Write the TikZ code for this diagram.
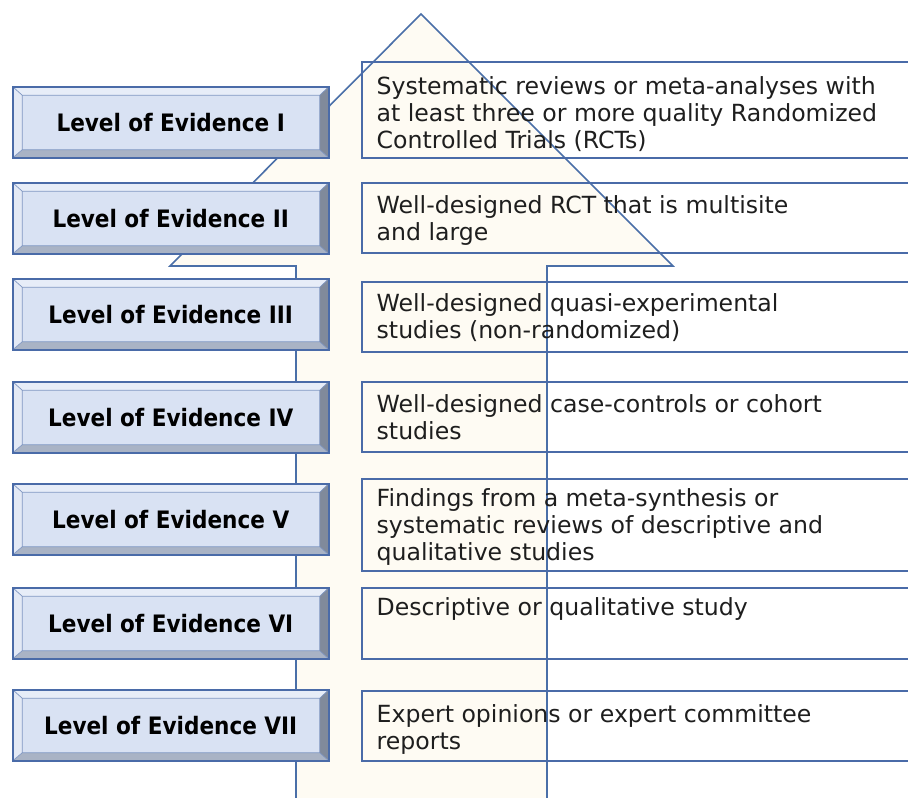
\documentclass[tikz,border=0pt]{standalone}
\usepackage{fontspec}
\setmainfont{DejaVu Sans}
\newfontfamily\lvlfont{DejaVu Sans Condensed Bold}
\definecolor{arrline}{HTML}{4A6FA8}
\definecolor{arrfill}{HTML}{FEFBF3}
\definecolor{lvlline}{HTML}{4A6BA8}
\definecolor{lvlfill}{HTML}{D9E2F3}
\definecolor{bvT}{HTML}{E7EDF8}
\definecolor{bvL}{HTML}{E3E9F5}
\definecolor{bvB}{HTML}{A9B3C5}
\definecolor{bvR}{HTML}{808A9B}
\definecolor{txt}{HTML}{1E1E1E}
\tikzset{
  bevelbox/.style={draw=lvlline, line width=1.5pt, fill=lvlfill,
    minimum width=316pt, minimum height=71pt, inner sep=0pt, anchor=north west,
    font=\lvlfont\fontsize{24}{28}\selectfont, text=black,
    path picture={
      \coordinate (bNW) at (path picture bounding box.north west);
      \coordinate (bNE) at (path picture bounding box.north east);
      \coordinate (bSW) at (path picture bounding box.south west);
      \coordinate (bSE) at (path picture bounding box.south east);
      \coordinate (iNW) at ([shift={(9.5pt,-8.5pt)}]bNW);
      \coordinate (iNE) at ([shift={(-9pt,-8.5pt)}]bNE);
      \coordinate (iSW) at ([shift={(9.5pt,8pt)}]bSW);
      \coordinate (iSE) at ([shift={(-9pt,8pt)}]bSE);
      \fill[bvT] (bNW) -- (bNE) -- (iNE) -- (iNW) -- cycle;
      \fill[bvB] (bSW) -- (bSE) -- (iSE) -- (iSW) -- cycle;
      \fill[bvL] (bNW) -- (bSW) -- (iSW) -- (iNW) -- cycle;
      \fill[bvR] (bNE) -- (bSE) -- (iSE) -- (iNE) -- cycle;
      \draw[lvlline!70, line width=0.7pt] (iNW) rectangle (iSE)
        (bNW) -- (iNW) (bNE) -- (iNE) (bSW) -- (iSW) (bSE) -- (iSE);
    }},
  textbox/.style={draw=lvlline, line width=1.6pt, minimum width=560pt,
    inner sep=0pt, anchor=north west},
  desc/.style={anchor=base west, align=left, inner sep=0pt, text=txt,
    font=\fontsize{23.6}{27.3}\selectfont},
  bigarrow/.style={draw=arrline, line width=1.6pt, fill=arrfill, line join=miter}
}
\begin{document}
\begin{tikzpicture}[x=1pt,y=-1pt]
\useasboundingbox (0,0) rectangle (908,798);
\clip (0,0) rectangle (908,798);
% big upward arrow
\path[bigarrow] (421,14) -- (673,266) -- (547,266) -- (547,815) -- (296,815)
  -- (296,266) -- (170,266) -- cycle;
% description boxes
\node[textbox, minimum height=96pt] (b1) at (361,61) {};
\node[textbox, minimum height=70pt] (b2) at (361,182) {};
\node[textbox, minimum height=70pt] (b3) at (361,281) {};
\node[textbox, minimum height=70pt] (b4) at (361,381) {};
\node[textbox, minimum height=92pt] (b5) at (361,478) {};
\node[textbox, minimum height=71pt] (b6) at (361,587) {};
\node[textbox, minimum height=70pt] (b7) at (361,690) {};
% texts (base anchor = baseline of the last line)
\node[desc] (t1) at (376.5,148.9) {Systematic reviews or meta-analyses with\\at least three or more quality Randomized\\Controlled Trials (RCTs)};
\node[desc] (t2) at (376.5,240.3) {Well-designed RCT that is multisite\\and large};
\node[desc] (t3) at (376.5,338.3) {Well-designed quasi-experimental\\studies (non-randomized)};
\node[desc] (t4) at (376.5,439.3) {Well-designed case-controls or cohort\\studies};
\node[desc] (t5) at (376.5,560.6) {Findings from a meta-synthesis or\\systematic reviews of descriptive and\\qualitative studies};
\node[desc] (t6) at (376.5,615.5) {Descriptive or qualitative study};
\node[desc] (t7) at (376.5,749.3) {Expert opinions or expert committee\\reports};
% level boxes
\node[bevelbox] (l1) at (12,86) {Level of Evidence I};
\node[bevelbox] (l2) at (12,182) {Level of Evidence II};
\node[bevelbox] (l3) at (12,278) {Level of Evidence III};
\node[bevelbox] (l4) at (12,381) {Level of Evidence IV};
\node[bevelbox] (l5) at (12,483) {Level of Evidence V};
\node[bevelbox] (l6) at (12,587) {Level of Evidence VI};
\node[bevelbox] (l7) at (12,689) {Level of Evidence VII};
\end{tikzpicture}
\end{document}
